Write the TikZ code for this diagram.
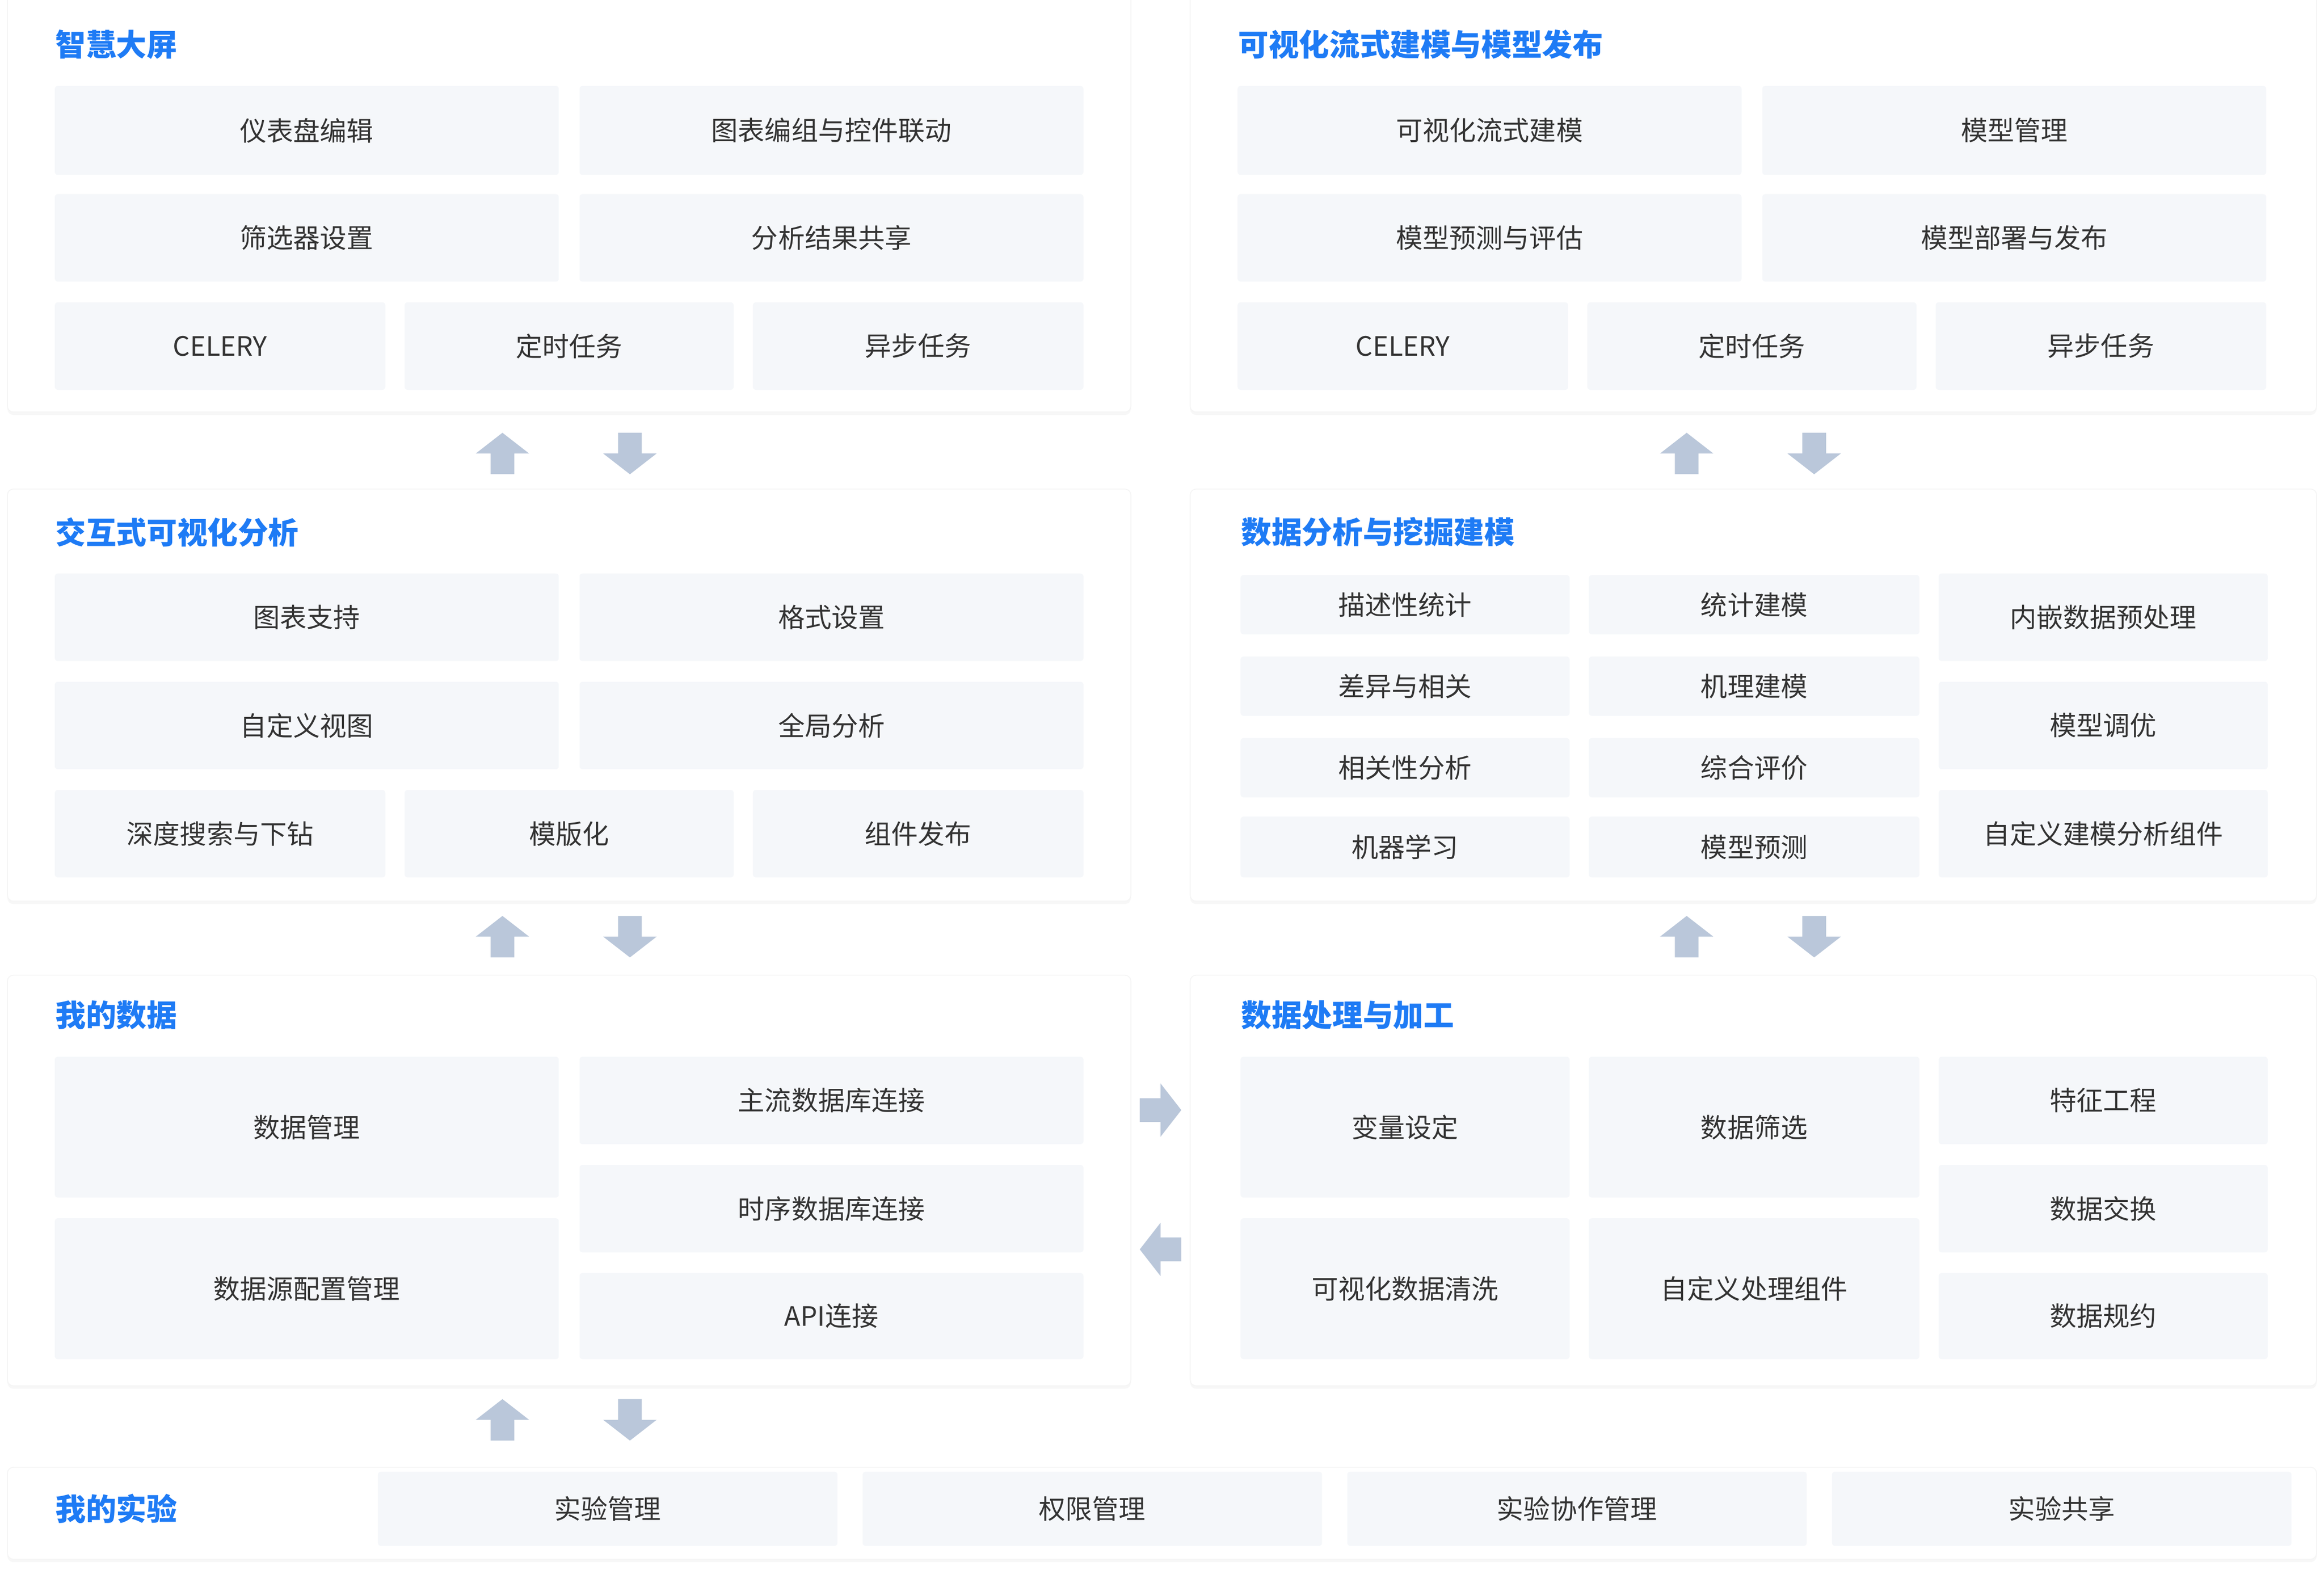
\documentclass[tikz,border=0pt]{standalone}
\usepackage{fontspec}
\setmainfont{Noto Sans CJK SC}
\usetikzlibrary{shadows}
\definecolor{boxc}{HTML}{F5F7FA}
\definecolor{txt}{HTML}{333333}
\definecolor{ttl}{HTML}{1E7BF5}
\definecolor{arr}{HTML}{BAC7DA}
\tikzset{
 panel/.style={fill=white,draw=black!4,line width=0.6pt,rounded corners=4pt,drop shadow={opacity=0.06,shadow xshift=0pt,shadow yshift=-2pt}},
 bx/.style={fill=boxc,draw=none,rounded corners=2pt},
 lbl/.style={font=\fontsize{18}{21}\selectfont,text=txt},
 ttlst/.style={font=\fontsize{20.5}{24}\selectfont\bfseries,text=ttl,anchor=west},
 arrshape/.style={fill=arr,draw=none}
}
\newcommand{\bxx}[6]{\fill[bx] (#1,#2) rectangle (#3,#4); \node[lbl] (#6) at ({(#1+#3)/2},{(#2+#4)/2}) {#5};}
\newcommand{\uparr}[2]{\fill[arrshape] (#1,#2) -- ++(18,14) -- ++(-10,0) -- ++(0,14) -- ++(-16,0) -- ++(0,-14) -- ++(-10,0) -- cycle;}
\newcommand{\dnarr}[2]{\fill[arrshape] (#1,#2+28) -- ++(18,-14) -- ++(-10,0) -- ++(0,-14) -- ++(-16,0) -- ++(0,14) -- ++(-10,0) -- cycle;}
\newcommand{\rtarr}[2]{\fill[arrshape] (#1+28,#2) -- ++(-14,18) -- ++(0,-10) -- ++(-14,0) -- ++(0,-16) -- ++(14,0) -- ++(0,-10) -- cycle;}
\newcommand{\ltarr}[2]{\fill[arrshape] (#1,#2) -- ++(14,18) -- ++(0,-10) -- ++(14,0) -- ++(0,-16) -- ++(-14,0) -- ++(0,-10) -- cycle;}
\begin{document}
\begin{tikzpicture}[x=1pt,y=-1pt]
\useasboundingbox[fill=white] (0,0) rectangle (1568,1059);
\draw[panel] (5,-4) rectangle (763,278);
\draw[panel] (803,-4) rectangle (1563,278);
\draw[panel] (5,330) rectangle (763,608);
\draw[panel] (803,330) rectangle (1563,608);
\draw[panel] (5,658) rectangle (763,935);
\draw[panel] (803,658) rectangle (1563,935);
\draw[panel] (5,990) rectangle (1563,1052);
\node[ttlst] (t1) at (34,30) {智慧大屏};
\node[ttlst] (t2) at (832,30) {可视化流式建模与模型发布};
\node[ttlst] (t3) at (34,359) {交互式可视化分析};
\node[ttlst] (t4) at (834,359) {数据分析与挖掘建模};
\node[ttlst] (t5) at (34,685) {我的数据};
\node[ttlst] (t6) at (834,685) {数据处理与加工};
\node[ttlst] (t7) at (34,1018) {我的实验};
\bxx{37}{58}{377}{118}{仪表盘编辑}{a1}
\bxx{391}{58}{731}{118}{图表编组与控件联动}{a2}
\bxx{37}{131}{377}{190}{筛选器设置}{a3}
\bxx{391}{131}{731}{190}{分析结果共享}{a4}
\bxx{37}{204}{260}{263}{CELERY}{a5}
\bxx{273}{204}{495}{263}{定时任务}{a6}
\bxx{508}{204}{731}{263}{异步任务}{a7}
\bxx{835}{58}{1175}{118}{可视化流式建模}{b1}
\bxx{1189}{58}{1529}{118}{模型管理}{b2}
\bxx{835}{131}{1175}{190}{模型预测与评估}{b3}
\bxx{1189}{131}{1529}{190}{模型部署与发布}{b4}
\bxx{835}{204}{1058}{263}{CELERY}{b5}
\bxx{1071}{204}{1293}{263}{定时任务}{b6}
\bxx{1306}{204}{1529}{263}{异步任务}{b7}
\bxx{37}{387}{377}{446}{图表支持}{c1}
\bxx{391}{387}{731}{446}{格式设置}{c2}
\bxx{37}{460}{377}{519}{自定义视图}{c3}
\bxx{391}{460}{731}{519}{全局分析}{c4}
\bxx{37}{533}{260}{592}{深度搜索与下钻}{c5}
\bxx{273}{533}{495}{592}{模版化}{c6}
\bxx{508}{533}{731}{592}{组件发布}{c7}
\bxx{837}{388}{1059}{428}{描述性统计}{d1}
\bxx{1072}{388}{1295}{428}{统计建模}{d2}
\bxx{837}{443}{1059}{483}{差异与相关}{d3}
\bxx{1072}{443}{1295}{483}{机理建模}{d4}
\bxx{837}{498}{1059}{538}{相关性分析}{d5}
\bxx{1072}{498}{1295}{538}{综合评价}{d6}
\bxx{837}{551}{1059}{592}{机器学习}{d7}
\bxx{1072}{551}{1295}{592}{模型预测}{d8}
\bxx{1308}{387}{1530}{446}{内嵌数据预处理}{d9}
\bxx{1308}{460}{1530}{519}{模型调优}{d10}
\bxx{1308}{533}{1530}{592}{自定义建模分析组件}{d11}
\bxx{37}{713}{377}{808}{数据管理}{e1}
\bxx{37}{822}{377}{917}{数据源配置管理}{e2}
\bxx{391}{713}{731}{772}{主流数据库连接}{e3}
\bxx{391}{786}{731}{845}{时序数据库连接}{e4}
\bxx{391}{859}{731}{917}{API连接}{e5}
\bxx{837}{713}{1059}{808}{变量设定}{f1}
\bxx{837}{822}{1059}{917}{可视化数据清洗}{f2}
\bxx{1072}{713}{1295}{808}{数据筛选}{f3}
\bxx{1072}{822}{1295}{917}{自定义处理组件}{f4}
\bxx{1308}{713}{1530}{772}{特征工程}{f5}
\bxx{1308}{786}{1530}{845}{数据交换}{f6}
\bxx{1308}{859}{1530}{917}{数据规约}{f7}
\bxx{255}{993}{565}{1043}{实验管理}{g1}
\bxx{582}{993}{892}{1043}{权限管理}{g2}
\bxx{909}{993}{1219}{1043}{实验协作管理}{g3}
\bxx{1236}{993}{1546}{1043}{实验共享}{g4}
\uparr{339}{292} \dnarr{425}{292}
\uparr{1138}{292} \dnarr{1224}{292}
\uparr{339}{618} \dnarr{425}{618}
\uparr{1138}{618} \dnarr{1224}{618}
\uparr{339}{944} \dnarr{425}{944}
\rtarr{769}{749} \ltarr{769}{843}
\end{tikzpicture}
\end{document}
